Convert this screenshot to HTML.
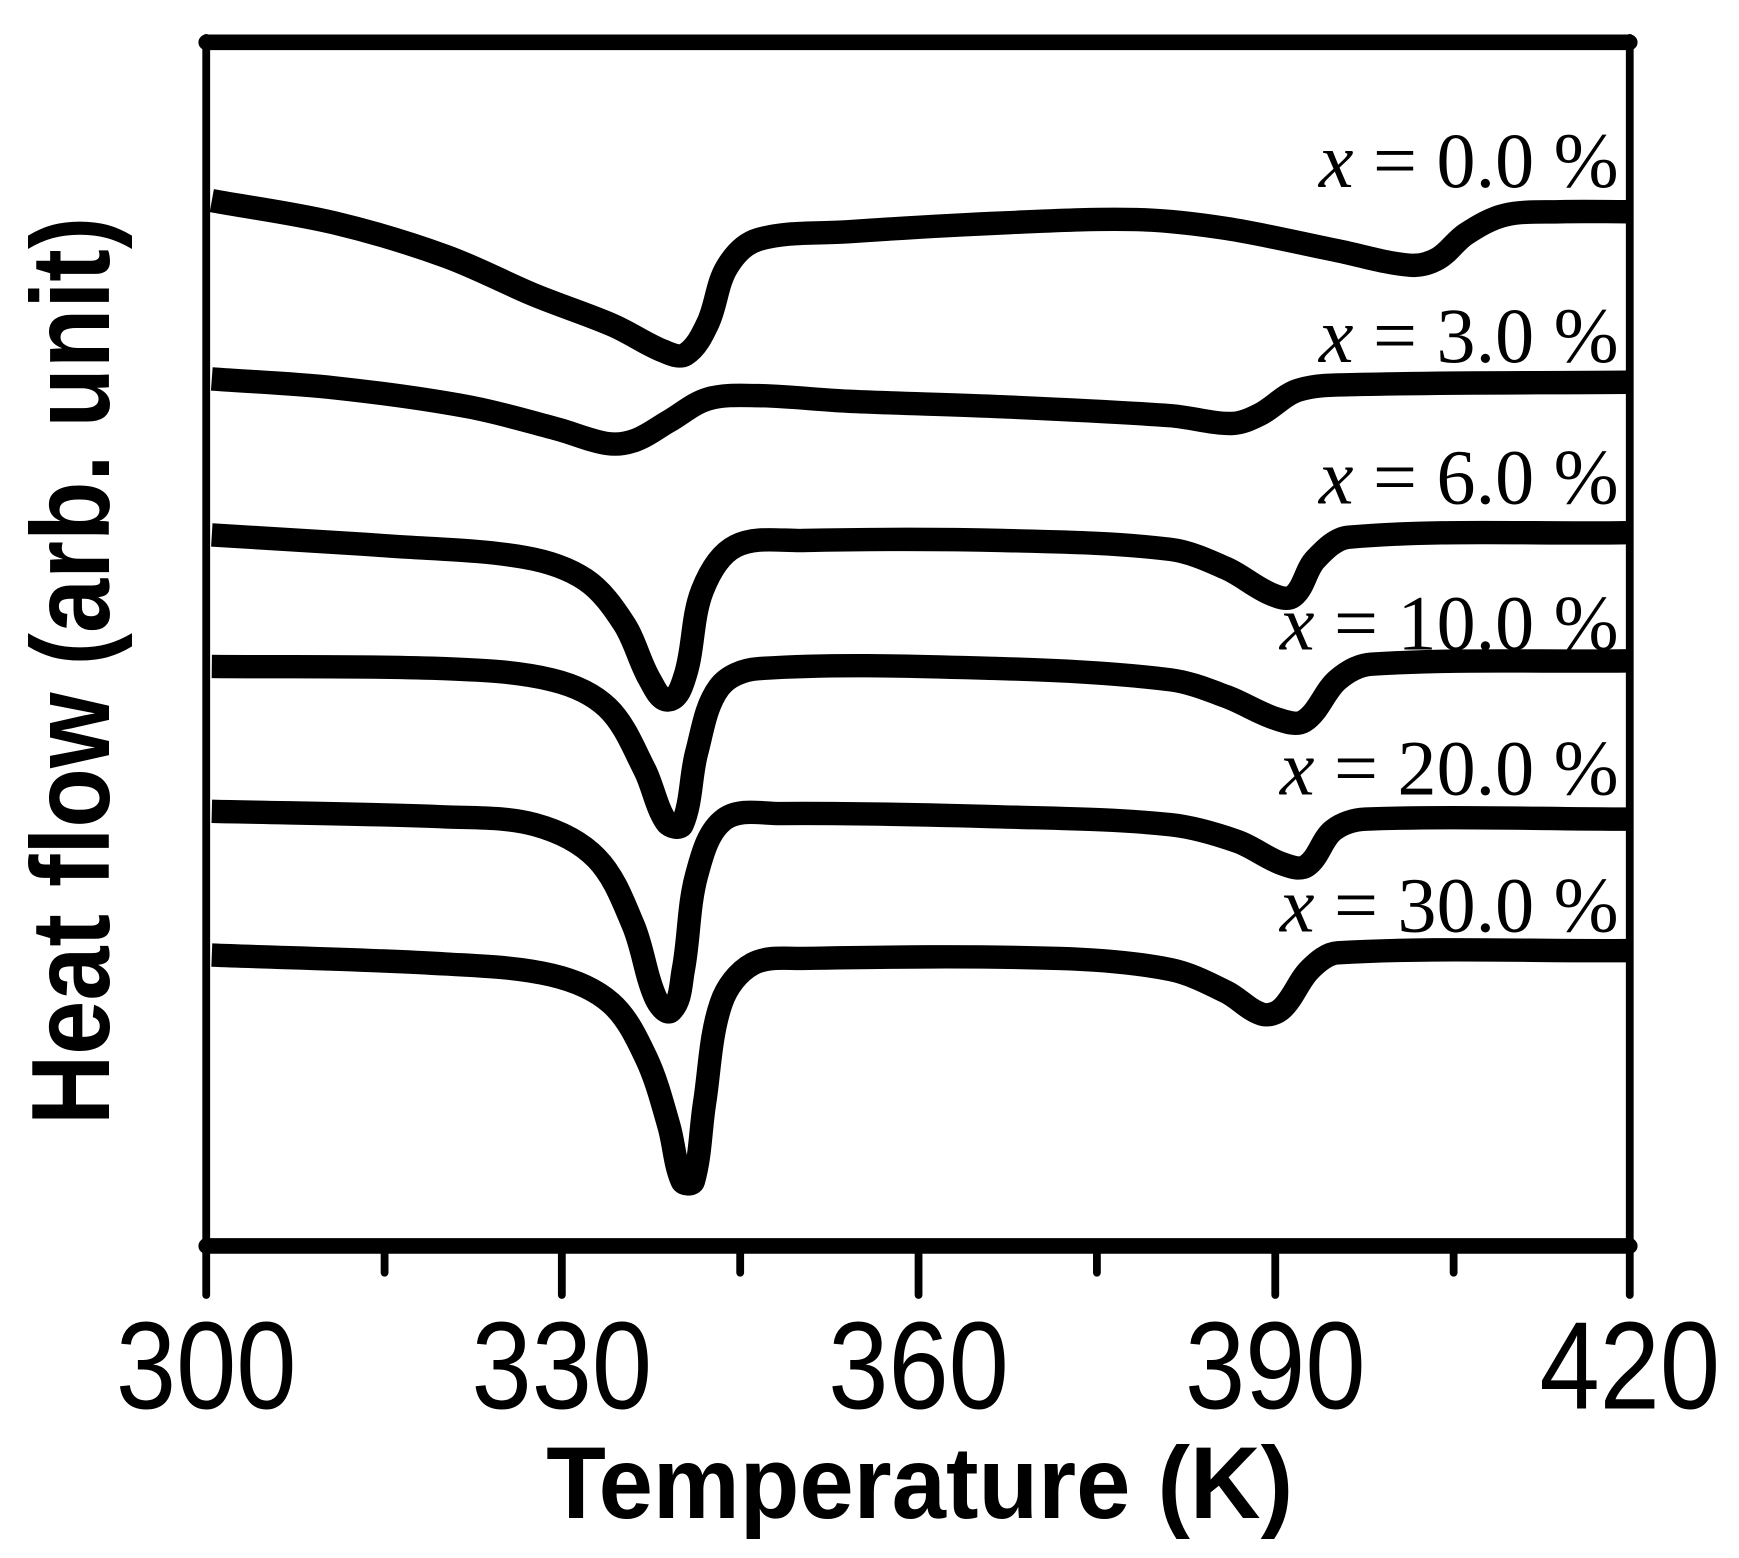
<!DOCTYPE html>
<html><head><meta charset="utf-8"><style>
html,body{margin:0;padding:0;background:#fff;}
svg{display:block;}
</style></head><body>
<svg id="s" width="1739" height="1558" viewBox="0 0 1560 1398" preserveAspectRatio="none" xmlns="http://www.w3.org/2000/svg">
<rect width="1560" height="1398" fill="#fff"/>
<g stroke="#000" fill="none" stroke-linecap="round">
<line x1="185" y1="38" x2="1462" y2="38" stroke-width="14"/>
<line x1="185" y1="1118" x2="1462" y2="1118" stroke-width="14"/>
<line x1="185" y1="34" x2="185" y2="1162" stroke-width="7"/>
<line x1="1462" y1="34" x2="1462" y2="1162" stroke-width="7"/>
<line x1="504" y1="1118" x2="504" y2="1162" stroke-width="7"/>
<line x1="824" y1="1118" x2="824" y2="1162" stroke-width="7"/>
<line x1="1144" y1="1118" x2="1144" y2="1162" stroke-width="7"/>
<line x1="345" y1="1118" x2="345" y2="1142" stroke-width="7"/>
<line x1="664" y1="1118" x2="664" y2="1142" stroke-width="7"/>
<line x1="984" y1="1118" x2="984" y2="1142" stroke-width="7"/>
<line x1="1304" y1="1118" x2="1304" y2="1142" stroke-width="7"/>
</g>
<g id="curves" stroke="#000" fill="none" stroke-width="21" stroke-linejoin="round"></g>
<g font-family="Liberation Sans, sans-serif" font-size="112" text-anchor="middle">
<text x="185" y="1264" textLength="162" lengthAdjust="spacingAndGlyphs">300</text>
<text x="504" y="1264" textLength="162" lengthAdjust="spacingAndGlyphs">330</text>
<text x="824" y="1264" textLength="162" lengthAdjust="spacingAndGlyphs">360</text>
<text x="1144" y="1264" textLength="162" lengthAdjust="spacingAndGlyphs">390</text>
<text x="1462" y="1264" textLength="162" lengthAdjust="spacingAndGlyphs">420</text>
</g>
<text x="825" y="1362" font-family="Liberation Sans, sans-serif" font-weight="bold" font-size="92" text-anchor="middle" textLength="670" lengthAdjust="spacingAndGlyphs">Temperature (K)</text>
<text transform="translate(98,602) rotate(-90)" font-family="Liberation Sans, sans-serif" font-weight="bold" font-size="100" text-anchor="middle" textLength="815" lengthAdjust="spacingAndGlyphs">Heat flow (arb. unit)</text>
<g font-family="Liberation Serif, serif" font-size="70" text-anchor="end">
<text x="1452" y="168"><tspan font-style="italic">x</tspan> = 0.0 %</text>
<text x="1452" y="325"><tspan font-style="italic">x</tspan> = 3.0 %</text>
<text x="1452" y="452"><tspan font-style="italic">x</tspan> = 6.0 %</text>
<text x="1452" y="583"><tspan font-style="italic">x</tspan> = 10.0 %</text>
<text x="1452" y="713"><tspan font-style="italic">x</tspan> = 20.0 %</text>
<text x="1452" y="836"><tspan font-style="italic">x</tspan> = 30.0 %</text>
</g>
</svg>
<script>
var data=[
[[190,180],[300,200],[400,230],[480,265],[550,292],[595,315],[615,318],[635,290],[652,240],[680,215],[760,208],[900,200],[1020,197],[1100,205],[1200,225],[1265,238],[1290,232],[1315,210],[1350,193],[1400,190],[1460,190]],
[[190,340],[300,348],[420,365],[500,385],[545,398],[570,395],[600,378],[635,358],[680,355],[760,360],[900,365],[1050,373],[1105,380],[1130,372],[1165,350],[1220,345],[1460,343]],
[[190,480],[350,490],[470,500],[525,520],[560,560],[583,610],[600,628],[615,605],[630,530],[660,490],[720,485],[900,485],[1050,493],[1100,510],[1140,533],[1160,535],[1180,502],[1210,482],[1460,478]],
[[190,598],[400,600],[495,610],[545,635],[578,690],[598,738],[612,740],[625,675],[645,617],[680,600],[900,600],[1050,610],[1100,625],[1145,645],[1170,647],[1200,610],[1230,596],[1460,593]],
[[190,728],[400,733],[480,740],[535,770],[568,830],[588,895],[602,907],[613,870],[625,785],[650,735],[700,730],[900,733],[1050,740],[1110,755],[1150,775],[1172,777],[1196,745],[1225,735],[1460,735]],
[[190,857],[400,865],[495,875],[548,900],[580,950],[600,1010],[612,1060],[622,1060],[632,990],[647,900],[675,865],[720,860],[950,860],[1050,870],[1100,890],[1132,910],[1150,905],[1175,870],[1200,855],[1460,853]]
];
function tan(p,i){
 var a=p[i-1]||p[i],b=p[i+1]||p[i];
 var dx=b[0]-a[0],dy=b[1]-a[1],l=Math.hypot(dx,dy)||1;return [dx/l,dy/l];
}
var g=document.getElementById('curves');
data.forEach(function(p){
 var d='M'+p[0][0]+','+p[0][1];
 for(var i=0;i<p.length-1;i++){
  var p1=p[i],p2=p[i+1],L=Math.hypot(p2[0]-p1[0],p2[1]-p1[1])/3;
  var t1=tan(p,i),t2=tan(p,i+1);
  var c1=[p1[0]+t1[0]*L,p1[1]+t1[1]*L];
  var c2=[p2[0]-t2[0]*L,p2[1]-t2[1]*L];
  d+=' C'+c1+' '+c2+' '+p2;
 }
 var e=document.createElementNS('http://www.w3.org/2000/svg','path');
 e.setAttribute('d',d);g.appendChild(e);
});
</script>
</body></html>
